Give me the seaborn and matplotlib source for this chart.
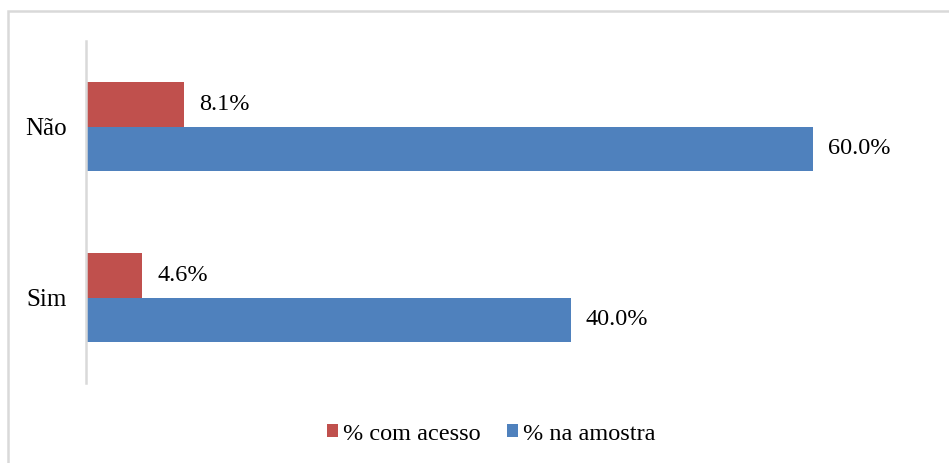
import matplotlib
matplotlib.use("Agg")
import matplotlib.pyplot as plt
import seaborn as sns
import pandas as pd
from matplotlib.patches import Rectangle, Patch

categories = ["Não", "Sim"]
series_names = ["% com acesso", "% na amostra"]
com_acesso = [8.1, 4.6]
na_amostra = [60.0, 40.0]
colors = ["#C0504D", "#4F81BD"]

df = pd.DataFrame({
    "cat": categories * 2,
    "serie": [series_names[0]] * 2 + [series_names[1]] * 2,
    "val": com_acesso + na_amostra,
})

sns.set_theme(style="white")
plt.rcParams["font.family"] = ["Liberation Serif", "DejaVu Serif"]
plt.rcParams["text.color"] = "black"

W, H = 949, 463
fig = plt.figure(figsize=(W / 100, H / 100), dpi=100)
# axes: x 86..934 px, y 41..383 px
ax = fig.add_axes([86 / W, 1 - 383 / H, (934 - 86) / W, (383 - 41) / H])

sns.barplot(data=df, y="cat", x="val", hue="serie", order=categories,
            hue_order=series_names, palette=colors, orient="h",
            width=0.52, dodge=True, ax=ax, legend=False, saturation=1,
            linewidth=0)

ax.set_xlim(0, 70)
ax.set_ylim(1.5, -0.5)
ax.set_xlabel("")
ax.set_ylabel("")
ax.set_xticks([])
ax.tick_params(axis="y", length=0, pad=14, labelsize=18, labelcolor="black")
for s in ["top", "right", "bottom"]:
    ax.spines[s].set_visible(False)
ax.spines["left"].set_color("#d9d9d9")
ax.spines["left"].set_linewidth(1.8)

for container in ax.containers:
    ax.bar_label(container, labels=[f"{v:.1f}%" for v in container.datavalues],
                 padding=11, fontsize=17.5, color="black")

handles = [Patch(facecolor=c, edgecolor="none", label=n) for c, n in zip(colors, series_names)]
fig.legend(handles=handles, loc="center", bbox_to_anchor=(491 / W, 1 - 434 / H),
           ncol=2, frameon=False, fontsize=17.5, handlelength=0.45, handleheight=0.45,
           handletextpad=0.2, columnspacing=1.1, labelcolor="black")

frame = Rectangle((8 / W, -0.1), 1.2, 1 - 11 / H + 0.1, transform=fig.transFigure,
                  fill=False, edgecolor="#d9d9d9", linewidth=1.8)
fig.add_artist(frame)

fig.savefig("out.png", dpi=100, facecolor="white")
